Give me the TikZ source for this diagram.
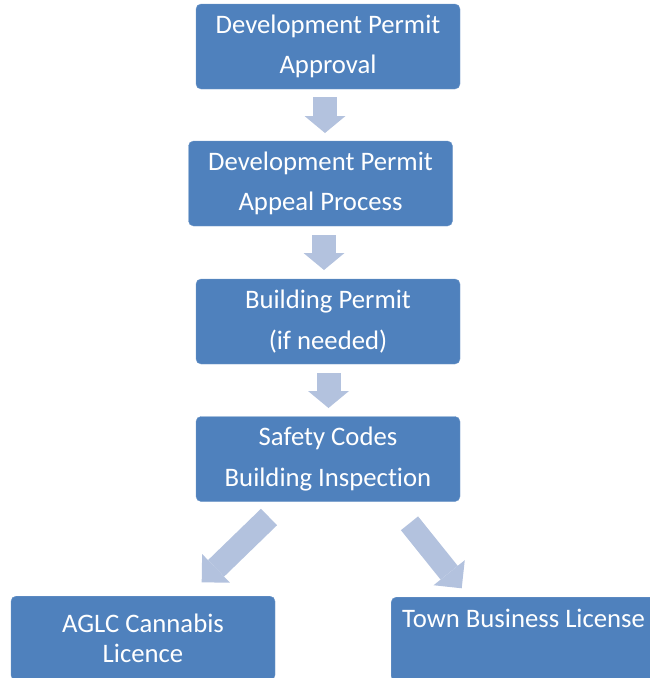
\documentclass[tikz,border=0pt]{standalone}
\usepackage{fontspec}
\setmainfont{Carlito}[Ligatures=NoCommon]
\usetikzlibrary{arrows.meta}
\definecolor{boxblue}{RGB}{79,129,189}
\definecolor{arrowblue}{RGB}{179,194,222}
\begin{document}
\begin{tikzpicture}[x=1pt,y=1pt]
\useasboundingbox (0,0) rectangle (650,-678);
\clip (0,0) rectangle (650,-678);
\begin{scope}[every node/.style={rectangle, rounded corners=5pt, fill=boxblue, draw=boxblue!80!white, text=white, align=center, inner sep=0pt, minimum width=264pt, minimum height=85pt, font=\fontsize{26.7}{40.5}\selectfont}]
    \node (b1) at (328,-46.5) {Development Permit\\Approval};
    \node (b2) at (320.5,-183.5) {Development Permit\\Appeal Process};
    \node (b3) at (328,-321.5) {Building Permit\\(if needed)};
    \node (b4) at (328,-459) {Safety Codes\\Building Inspection};
    \node[font=\fontsize{26.7}{30}\selectfont, minimum height=84pt, anchor=north] (b5) at (143,-596) {AGLC Cannabis\\Licence};
    \node[align=flush left, anchor=north west, text width=280pt, minimum width=302pt, minimum height=84pt, inner xsep=11pt, text height=30pt, text depth=54pt] (b6) at (391,-597) {Town Business License};
\end{scope}
\begin{scope}[every path/.style={draw=arrowblue, line width=24pt, -{Triangle[line width=0pt, length=17pt, width=41pt]}}]
    \coordinate (a1s) at (325,-97);
    \coordinate (a1e) at (325,-133);
    \coordinate (a2s) at (324,-235);
    \coordinate (a2e) at (324,-270);
    \coordinate (a3s) at (328.5,-373);
    \coordinate (a3e) at (328.5,-408);
    \coordinate (a4s) at (269,-517);
    \coordinate (a4e) at (201.7,-582.3);
    \coordinate (a5s) at (409.5,-523.3);
    \coordinate (a5e) at (461.7,-588.3);
    \path (a1s) -- (a1e);
    \path (a2s) -- (a2e);
    \path (a3s) -- (a3e);
    \path[line width=23pt, -{Triangle[line width=0pt, length=20pt, width=40pt]}] (a4s) -- (a4e);
    \path[line width=22pt, -{Triangle[line width=0pt, length=20pt, width=40pt]}] (a5s) -- (a5e);
\end{scope}
\end{tikzpicture}
\end{document}
